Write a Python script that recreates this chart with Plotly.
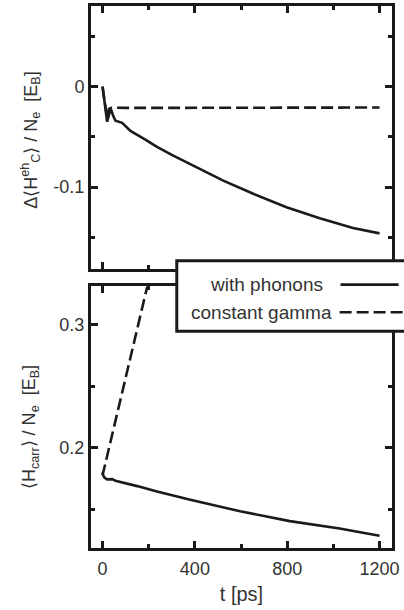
import plotly.graph_objects as go

# top panel: change of coulomb energy per carrier
T_TOP_PHONON = [0, 8, 20, 30, 37, 46, 56, 85, 121, 180, 236, 300, 380, 450, 523, 653, 797, 941, 1085, 1200]
E_TOP_PHONON = [0.0, -0.015, -0.035, -0.026, -0.023, -0.029, -0.034, -0.036, -0.044, -0.052, -0.060,
                -0.068, -0.077, -0.085, -0.0935, -0.1066, -0.120, -0.131, -0.1406, -0.146]
T_TOP_GAMMA = [0, 8, 20, 28, 40, 100, 300, 600, 900, 1200]
E_TOP_GAMMA = [0.0, -0.015, -0.032, -0.022, -0.021, -0.0212, -0.0212, -0.021, -0.021, -0.0208]

# bottom panel: carrier energy per carrier
T_BOT_PHONON = [0, 1, 8, 20, 42, 56, 150, 236, 380, 596, 811, 1027, 1200]
E_BOT_PHONON = [0.180, 0.1785, 0.1760, 0.1745, 0.1747, 0.1733, 0.1690, 0.1646, 0.158, 0.1486,
                0.1406, 0.1346, 0.1287]
T_BOT_GAMMA = [0, 1, 300]
E_BOT_GAMMA = [0.180, 0.1785, 0.415]

X_TICKS = [0, 400, 800, 1200]
TOP_TICKS = [-0.1, 0]
BOT_TICKS = [0.2, 0.3]

INK = "#1a1a1a"
FONT = "Liberation Sans, Arial, sans-serif"
DASH = "12px,5px"

fig = go.Figure()
fig.add_trace(go.Scatter(x=T_TOP_PHONON, y=E_TOP_PHONON, mode="lines", xaxis="x", yaxis="y",
                         line=dict(color=INK, width=2.6)))
fig.add_trace(go.Scatter(x=T_TOP_GAMMA, y=E_TOP_GAMMA, mode="lines", xaxis="x", yaxis="y",
                         line=dict(color=INK, width=2.6, dash=DASH)))
fig.add_trace(go.Scatter(x=T_BOT_PHONON, y=E_BOT_PHONON, mode="lines", xaxis="x2", yaxis="y2",
                         line=dict(color=INK, width=2.6)))
fig.add_trace(go.Scatter(x=T_BOT_GAMMA, y=E_BOT_GAMMA, mode="lines", xaxis="x2", yaxis="y2",
                         line=dict(color=INK, width=2.6, dash=DASH)))

axis_style = dict(showline=True, linewidth=3, linecolor=INK, mirror="ticks",
                  ticks="inside", ticklen=7, tickwidth=2.5, tickcolor=INK,
                  showgrid=False, zeroline=False,
                  tickfont=dict(family=FONT, size=18, color="#333"))

fig.update_layout(
    width=404, height=610,
    margin=dict(l=91, r=12, t=3, b=62),
    paper_bgcolor="white", plot_bgcolor="white",
    showlegend=False,
    xaxis=dict(domain=[0, 1], anchor="y", range=[-50, 1254], tickvals=X_TICKS,
               showticklabels=False,
               minor=dict(ticks="inside", ticklen=4, tickwidth=2.5, tickcolor=INK, dtick=200, tick0=0),
               **axis_style),
    yaxis=dict(domain=[0.5156, 1], anchor="x", range=[-0.181, 0.0802], tickvals=TOP_TICKS,
               ticktext=["-0.1", "0"],
               minor=dict(ticks="inside", ticklen=4, tickwidth=2.5, tickcolor=INK, dtick=0.05, tick0=0),
               **axis_style),
    xaxis2=dict(domain=[0, 1], anchor="y2", range=[-50, 1254], tickvals=X_TICKS,
                ticklabelstandoff=2,
                minor=dict(ticks="inside", ticklen=4, tickwidth=2.5, tickcolor=INK, dtick=200, tick0=0),
                title=dict(text="t [ps]", font=dict(family=FONT, size=20, color="#333"), standoff=10),
                **axis_style),
    yaxis2=dict(domain=[0, 0.4826], anchor="x2", range=[0.1188, 0.331], tickvals=BOT_TICKS,
                minor=dict(ticks="inside", ticklen=4, tickwidth=2.5, tickcolor=INK, dtick=0.05, tick0=0),
                **axis_style),
)

title_font = dict(family=FONT, size=18, color="#333")
fig.add_annotation(text="Δ⟨H<sup>eh</sup><sub>C</sub>⟩ / N<sub>e</sub>  [E<sub>B</sub>]",
                   xref="paper", yref="paper", x=-0.201, y=0.754, textangle=-90,
                   xanchor="center", yanchor="middle", showarrow=False, font=title_font)
fig.add_annotation(text="⟨H<sub>carr</sub>⟩ / N<sub>e</sub>  [E<sub>B</sub>]",
                   xref="paper", yref="paper", x=-0.201, y=0.224, textangle=-90,
                   xanchor="center", yanchor="middle", showarrow=False, font=title_font)

# legend box drawn by hand: text left of the line sample
fig.add_shape(type="rect", xref="paper", yref="paper", x0=0.285, x1=1.08, y0=0.40, y1=0.530,
              line=dict(color=INK, width=3), fillcolor="white", layer="above")
fig.add_shape(type="line", xref="paper", yref="paper", x0=0.829, x1=1.022, y0=0.486, y1=0.486,
              line=dict(color=INK, width=2.6))
fig.add_shape(type="line", xref="paper", yref="paper", x0=0.826, x1=1.05, y0=0.435, y1=0.435,
              line=dict(color=INK, width=2.6, dash=DASH))
legend_font = dict(family=FONT, size=19, color="#333")
fig.add_annotation(text="with phonons", xref="paper", yref="paper", x=0.776, y=0.486,
                   xanchor="right", yanchor="middle", showarrow=False, font=legend_font)
fig.add_annotation(text="constant gamma", xref="paper", yref="paper", x=0.806, y=0.435,
                   xanchor="right", yanchor="middle", showarrow=False, font=legend_font)

# page body has a default 8px margin; drop it so the figure sits at the window corner
fig.write_html("out.html", config={"displayModeBar": False},
               post_script="document.body.style.margin='0';")
